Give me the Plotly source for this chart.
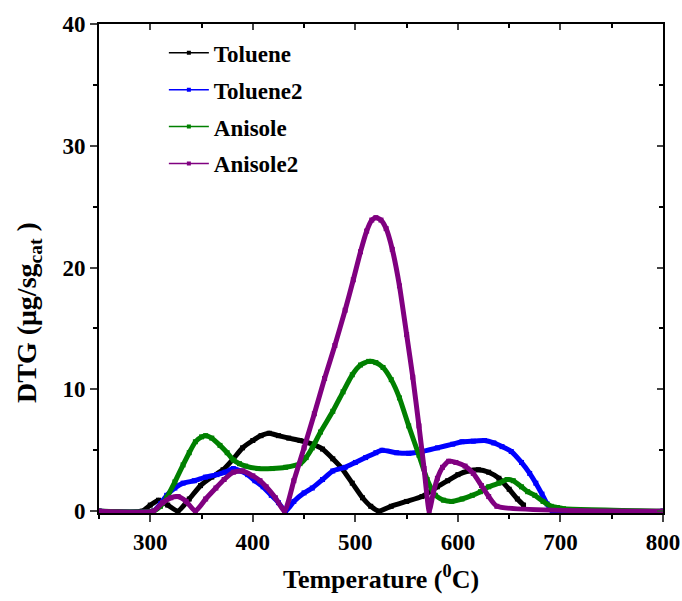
import plotly.graph_objects as go

# ---- data ----
tol_T = [250, 292, 300, 308, 317, 327, 338, 349, 360, 371, 381, 390, 400, 408, 416, 425, 435, 446, 458, 468,
         478, 487, 497, 507, 515, 523, 535, 550, 565, 580, 590, 600, 610, 620, 630, 640, 650, 658, 664]
tol_v = [0, 0, 0.5, 0.9, 0.5, 0, 1.0, 2.1, 2.8, 3.4, 4.3, 5.2, 5.8, 6.2, 6.4, 6.2, 6.0, 5.8, 5.5, 5.1,
         4.3, 3.5, 2.3, 1.1, 0.4, 0.0, 0.4, 0.8, 1.2, 2.0, 2.5, 3.0, 3.3, 3.4, 3.2, 2.7, 1.8, 1.0, 0.5]

tol2_T = [250, 303, 310, 316, 324, 332, 343, 354, 365, 373, 381, 388, 395, 402, 410, 418, 425, 432, 440, 450,
          458, 468, 478, 490, 500, 510, 520, 526, 540, 552, 565, 580, 595, 604, 615, 626, 635, 643, 652, 662,
          670, 676, 682, 687, 692, 800]
tol2_v = [0, 0, 0.6, 1.3, 1.9, 2.3, 2.5, 2.8, 3.0, 3.2, 3.5, 3.3, 3.0, 2.5, 2.0, 1.3, 0.7, 0.0, 0.8, 1.5,
          1.9, 2.6, 3.3, 3.6, 4.0, 4.4, 4.8, 5.0, 4.8, 4.75, 4.9, 5.2, 5.5, 5.7, 5.75, 5.8, 5.6, 5.3, 4.9, 4.0,
          3.1, 2.3, 1.4, 0.6, 0, 0]

ani_T = [250, 303, 310, 316, 324, 332, 338, 344, 350, 354, 360, 368, 375, 381, 387, 393, 405, 419, 432, 446,
         452, 458, 466, 478, 488, 497, 505, 513, 520, 527, 535, 543, 552, 562, 570, 578, 586, 594, 604, 614,
         622, 630, 640, 648, 654, 662, 668, 675, 683, 691, 697, 703, 800]
ani_v = [0, 0, 0.4, 1.1, 2.4, 3.8, 4.8, 5.7, 6.1, 6.2, 6.0, 5.4, 4.8, 4.2, 3.9, 3.7, 3.5, 3.5, 3.6, 3.9,
         4.4, 5.2, 6.5, 8.2, 9.8, 11.2, 12.0, 12.3, 12.2, 11.8, 10.8, 9.3, 7.0, 4.6, 2.6, 1.3, 0.9, 0.8, 1.0, 1.3,
         1.6, 2.0, 2.3, 2.6, 2.5, 2.0, 1.6, 1.3, 0.8, 0.4, 0.3, 0.2, 0]

ani2_T = [250, 303, 312, 320, 327, 335, 344, 354, 364, 372, 381, 390, 400, 407, 413, 422, 431, 440, 450, 460,
          470, 480, 490, 498, 505, 511, 516, 520, 525, 530, 536, 543, 550, 556, 562, 567, 572, 576, 580, 585,
          591, 598, 607, 615, 623, 630, 638, 800]
ani2_v = [0, 0, 0.7, 1.1, 1.2, 0.8, 0.0, 1.0, 1.9, 2.6, 3.2, 3.3, 2.9, 2.5, 2.0, 1.1, 0.0, 2.5, 5.2, 8.0,
          10.9, 13.6, 16.5, 19.0, 21.3, 23.0, 23.9, 24.1, 23.9, 23.2, 21.5, 18.5, 14.5, 11.0, 7.0, 3.5, 0.0, 1.5, 2.7, 3.6,
          4.1, 4.0, 3.7, 3.1, 2.1, 1.2, 0.4, 0]

names = ["Toluene", "Toluene2", "Anisole", "Anisole2"]
colors = ["#000000", "#0000FF", "#008000", "#800080"]
series = [(tol_T, tol_v), (tol2_T, tol2_v), (ani_T, ani_v), (ani2_T, ani2_v)]

x_ticks = [300, 400, 500, 600, 700, 800]
y_ticks = [0, 10, 20, 30, 40]

FONT = "Liberation Serif"

fig = go.Figure()
for (t, v), n, c in zip(series, names, colors):
    fig.add_trace(go.Scatter(
        x=t, y=v, mode="lines+markers", name=n, showlegend=False,
        line=dict(color=c, width=5, shape="spline", smoothing=0.5),
        marker=dict(symbol="square", size=5, color=c),
    ))
# legend-only entries (thin line + small square marker)
for i, (n, c) in enumerate(zip(names, colors)):
    fig.add_trace(go.Scatter(
        x=[None], y=[None], mode="lines+markers", name=n, legendgroup=n,
        line=dict(color=c, width=1.5), marker=dict(symbol="square", size=4, color=c),
    ))

fig.update_layout(
    width=682, height=601,
    margin=dict(l=99, r=19, t=24, b=88),
    plot_bgcolor="white", paper_bgcolor="white",
    font=dict(family=FONT, color="black"),
    legend=dict(x=0.115, y=0.985, xanchor="left", yanchor="top",
                font=dict(family=FONT, size=23, color="black", weight="bold"),
                bgcolor="rgba(0,0,0,0)", tracegroupgap=4, itemwidth=40),
    xaxis=dict(range=[250, 800], tickvals=x_ticks, ticks="outside", ticklen=7, tickwidth=2,
               showline=True, linewidth=2, linecolor="black", mirror=True, showgrid=False, zeroline=False,
               automargin=False,
               minor=dict(dtick=50, tick0=250, ticks="outside", ticklen=4, tickwidth=2, tickcolor="black"),
               tickfont=dict(family=FONT, size=23, color="black", weight="bold"),
               title=dict(text="Temperature (<sup>0</sup>C)", standoff=16,
                          font=dict(family=FONT, size=26, color="black", weight="bold"))),
    yaxis=dict(range=[-0.15, 40], tickvals=y_ticks, ticks="outside", ticklen=7, tickwidth=2,
               showline=True, linewidth=2, linecolor="black", mirror=True, showgrid=False, zeroline=False,
               automargin=False,
               minor=dict(dtick=5, tick0=0, ticks="outside", ticklen=4, tickwidth=2, tickcolor="black"),
               tickfont=dict(family=FONT, size=23, color="black", weight="bold")),
    xaxis2=dict(range=[250, 800], overlaying="x", side="top", tickvals=x_ticks, ticks="inside",
                ticklen=6, tickwidth=2, showticklabels=False, showgrid=False, zeroline=False, showline=False,
                automargin=False,
                minor=dict(dtick=50, tick0=250, ticks="inside", ticklen=4, tickwidth=2, tickcolor="black")),
    yaxis2=dict(range=[-0.15, 40], overlaying="y", side="right", tickvals=y_ticks, ticks="inside",
                ticklen=6, tickwidth=2, showticklabels=False, showgrid=False, zeroline=False, showline=False,
                automargin=False,
                minor=dict(dtick=5, tick0=0, ticks="inside", ticklen=4, tickwidth=2, tickcolor="black")),
)
fig.add_trace(go.Scatter(x=[None], y=[None], xaxis="x2", yaxis="y2", showlegend=False, hoverinfo="skip"))

# y-axis title as a rotated annotation
fig.add_annotation(text="DTG (μg/sg<sub>cat</sub> )", textangle=-90, showarrow=False,
                   xref="paper", yref="paper", x=-0.125, y=0.41, xanchor="center", yanchor="middle",
                   font=dict(family=FONT, size=28, color="black", weight="bold"))

fig.write_html("out.html")
